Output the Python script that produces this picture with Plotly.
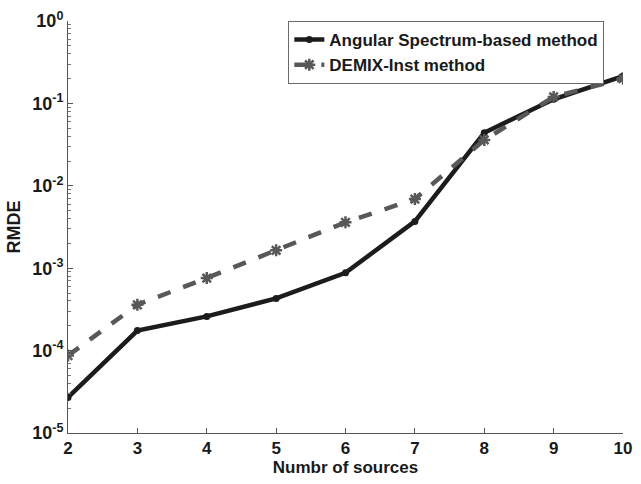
import plotly.graph_objects as go

# Number of sources on the x axis
sources = [2, 3, 4, 5, 6, 7, 8, 9, 10]

# RMDE for each method
rmde_angular = [2.7e-5, 1.75e-4, 2.6e-4, 4.3e-4, 8.8e-4, 3.7e-3, 4.4e-2, 0.112, 0.215]
rmde_demix = [8.7e-5, 3.6e-4, 7.6e-4, 1.65e-3, 3.6e-3, 6.9e-3, 3.6e-2, 0.12, 0.20]

# Decade ticks for the log axis
ytick_vals = [1e-5, 1e-4, 1e-3, 1e-2, 1e-1, 1e0]
ytick_text = ["10<sup>-5</sup>", "10<sup>-4</sup>", "10<sup>-3</sup>",
              "10<sup>-2</sup>", "10<sup>-1</sup>", "10<sup>0</sup>"]

# Minor ticks at 2..9 within each decade
minor_vals = [d * m for d in ytick_vals[:-1] for m in range(2, 10)]

font_family = "Liberation Sans, Arial, sans-serif"

fig = go.Figure()
fig.add_trace(go.Scatter(
    x=sources, y=rmde_angular, name="<b>Angular Spectrum-based method</b>",
    mode="lines+markers",
    line=dict(color="#1c1c1c", width=4.5),
    marker=dict(symbol="circle", size=7, color="#1c1c1c"),
))
fig.add_trace(go.Scatter(
    x=sources, y=rmde_demix, name="<b>DEMIX-Inst method</b>",
    mode="lines+markers",
    line=dict(color="#585858", width=4.5, dash="dash"),
    marker=dict(symbol="asterisk-open", size=10, color="#585858",
                line=dict(width=2.5, color="#585858")),
))

fig.update_layout(
    width=641, height=484,
    margin=dict(l=68, r=9, t=20, b=51),
    paper_bgcolor="white", plot_bgcolor="white",
    font=dict(family=font_family, size=17, color="#1a1a1a"),
    showlegend=True,
    legend=dict(
        x=0.397, y=1.0, xanchor="left", yanchor="top",
        bgcolor="white", bordercolor="#6a6a6a", borderwidth=1,
        font=dict(family=font_family, size=17, color="#1a1a1a"),
        tracegroupgap=0, itemwidth=30,
    ),
)

fig.update_xaxes(
    range=[2, 10], tickvals=sources,
    ticktext=[f"<b>{s}</b>" for s in sources],
    tickfont=dict(size=17), ticklabeloverflow="allow",
    ticks="inside", ticklen=5, tickcolor="#555",
    showline=True, linecolor="#555", linewidth=1, mirror=False,
    showgrid=False, zeroline=False,
    title=dict(text="<b>Numbr of sources</b>", font=dict(size=17), standoff=2),
)
fig.update_yaxes(
    type="log", range=[-5, 0],
    tickvals=ytick_vals, ticktext=[f"<b>{t}</b>" for t in ytick_text],
    tickfont=dict(size=18), ticklabeloverflow="allow",
    ticks="inside", ticklen=5, tickcolor="#555",
    minor=dict(tickmode="array", tickvals=minor_vals, ticks="inside",
               ticklen=3, tickcolor="#777", showgrid=False),
    showline=True, linecolor="#555", linewidth=1, mirror=False,
    showgrid=False, zeroline=False,
    title=dict(text="<b>RMDE</b>", font=dict(size=18), standoff=6),
)

fig.write_html("out.html")
